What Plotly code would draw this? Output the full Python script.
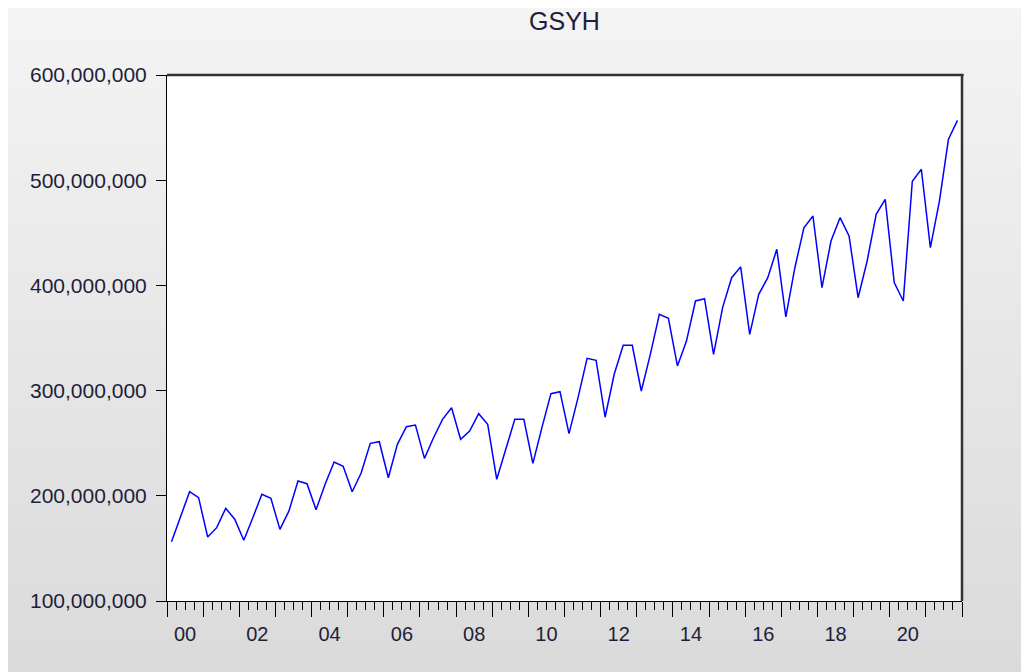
import plotly.graph_objects as go

# ---- data (GSYH, quarterly, millions) ----
start_year = 2000
gsyh_millions = [
    156.4, 180.8, 203.9, 198.2,
    160.8, 169.7, 188.1, 177.7,
    157.7, 179.2, 201.4, 197.6,
    168.1, 185.6, 214.1, 211.5,
    186.8, 210.9, 232.1, 228.0,
    203.9, 221.9, 249.9, 251.4,
    217.2, 248.9, 265.7, 267.3,
    235.6, 255.2, 272.7, 283.7,
    253.7, 261.6, 278.1, 268.0,
    215.7, 244.2, 272.7, 272.7,
    230.8, 264.8, 297.1, 299.0,
    259.1, 293.3, 330.7, 328.8,
    274.9, 315.5, 343.0, 343.0,
    299.6, 334.5, 372.5, 368.7,
    323.4, 347.1, 385.2, 387.4,
    334.5, 378.9, 407.3, 417.6,
    353.5, 391.5, 407.3, 434.3,
    370.0, 416.8, 454.8, 466.0,
    397.8, 442.2, 464.4, 447.0,
    388.3, 423.2, 467.6, 481.8,
    402.6, 385.2, 499.0, 510.4,
    435.9, 480.2, 538.9, 556.9,
]
quarters = [f"{start_year + i // 4}Q{i % 4 + 1}" for i in range(len(gsyh_millions))]
year_labels = ["00", "02", "04", "06", "08", "10", "12", "14", "16", "18", "20"]
y_ticks = [100e6, 200e6, 300e6, 400e6, 500e6, 600e6]

n = len(gsyh_millions)
n_years = n // 4
x_pos = [i + 0.5 for i in range(n)]
y_vals = [v * 1e6 for v in gsyh_millions]
label_pos = [4 * int(s) + 2 for s in year_labels]

# page body has an 8px margin; size the figure to fill the rest of the window
OFF = 8
W, H = 1029 - OFF, 672 - OFF
L, R, T, B = 167 - OFF, 67, 75 - OFF, 71
pw, ph = W - L - R, H - T - B

FONT = "Liberation Sans, Arial, sans-serif"
TXT = "#1e1e3a"

fig = go.Figure()
fig.add_trace(go.Scatter(
    x=x_pos, y=y_vals, customdata=quarters, mode="lines",
    line=dict(color="#0000ff", width=1.5),
    hovertemplate="%{customdata}: %{y:,.0f}<extra></extra>",
    showlegend=False,
))

# background gradient bands (paper coords)
shapes = []
def fx(xp):
    return (xp - L) / pw
def fy(yp):
    return 1 - (yp - T) / ph
top_c = (244, 244, 244)
bot_c = (218, 218, 218)
nb = 60
y0px, y1px = -4, H
for k in range(nb):
    a = y0px + (y1px - y0px) * k / nb
    b = y0px + (y1px - y0px) * (k + 1) / nb + 1
    t = (k + 0.5) / nb
    c = tuple(int(round(top_c[j] + (bot_c[j] - top_c[j]) * t)) for j in range(3))
    shapes.append(dict(type="rect", xref="paper", yref="paper",
                       x0=fx(-2), x1=fx(W + 2),
                       y0=fy(b), y1=fy(a),
                       fillcolor=f"rgb{c}", line=dict(width=0), layer="below"))
# white plot area
shapes.append(dict(type="rect", xref="paper", yref="paper", x0=0, x1=1, y0=0, y1=1,
                   fillcolor="white", line=dict(width=0), layer="below"))
# heavier top/right frame
shapes.append(dict(type="line", xref="paper", yref="paper", x0=0, x1=1.002, y0=1, y1=1,
                   line=dict(color="#333333", width=2.5), layer="above"))
shapes.append(dict(type="line", xref="paper", yref="paper", x0=1, x1=1, y0=0, y1=1.002,
                   line=dict(color="#333333", width=2.5), layer="above"))

fig.update_layout(
    width=W, height=H,
    margin=dict(l=L, r=R, t=T, b=B, pad=0, autoexpand=False),
    paper_bgcolor="white", plot_bgcolor="white",
    font=dict(family=FONT, size=21, color=TXT),
    title=dict(text="GSYH", x=0.5, xref="paper", xanchor="center",
               y=1 - 13 / H, yref="container", yanchor="middle",
               font=dict(family=FONT, size=25, color=TXT)),
    shapes=shapes,
    xaxis=dict(range=[0, 4 * n_years], tickmode="array", tickvals=label_pos,
               ticktext=year_labels, ticks="outside", ticklen=15,
               tickcolor="rgba(0,0,0,0)", showgrid=False, zeroline=False,
               showline=True, linecolor="black", linewidth=1, automargin=False,
               tickfont=dict(family=FONT, size=20, color=TXT)),
    xaxis2=dict(range=[0, 4 * n_years], overlaying="x", anchor="y", side="bottom",
                tickmode="array", tickvals=[4 * k for k in range(n_years + 1)],
                showticklabels=False, ticks="outside", ticklen=15, tickwidth=1.2,
                tickcolor="black", showgrid=False, zeroline=False, showline=False,
                automargin=False,
                minor=dict(tickmode="array", tickvals=list(range(4 * n_years + 1)),
                           ticks="outside", ticklen=8, tickwidth=1.2, tickcolor="black",
                           showgrid=False)),
    yaxis=dict(range=[100e6, 600e6], tickmode="array", tickvals=y_ticks,
               tickformat=",d", ticks="outside", ticklen=10, tickcolor="black",
               ticklabelstandoff=5,
               showgrid=False, zeroline=False, showline=True, linecolor="black",
               linewidth=1, automargin=False,
               tickfont=dict(family=FONT, size=21, color=TXT)),
)
# invisible helper so xaxis2 is drawn
fig.add_trace(go.Scatter(x=[0, 4 * n_years], y=[None, None], xaxis="x2", yaxis="y",
                         mode="lines", showlegend=False, hoverinfo="skip"))

fig.write_html("out.html")
